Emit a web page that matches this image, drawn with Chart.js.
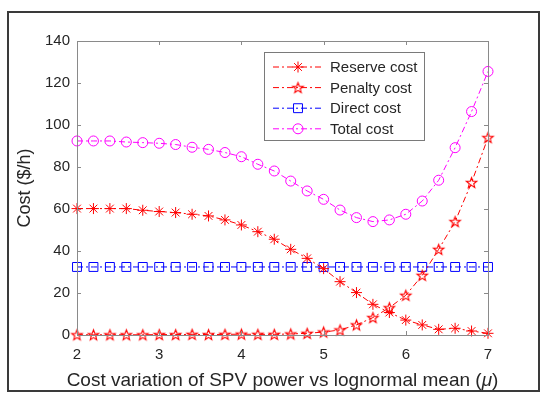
<!DOCTYPE html>
<html>
<head>
<meta charset="utf-8">
<script src="https://cdn.jsdelivr.net/npm/chart.js@4.4.1/dist/chart.umd.min.js"></script>
<style>
  html, body { margin: 0; padding: 0; background: #fff; }
  #wrap { width: 550px; height: 398px; }
</style>
</head>
<body>
<div id="wrap"><canvas id="costChart" width="550" height="398"></canvas></div>
<script>
// lognormal mean (mu) sample points
const xValues = [2.0, 2.2, 2.4, 2.6, 2.8, 3.0, 3.2, 3.4, 3.6, 3.8, 4.0, 4.2, 4.4,
                 4.6, 4.8, 5.0, 5.2, 5.4, 5.6, 5.8, 6.0, 6.2, 6.4, 6.6, 6.8, 7.0];

const reserveCost = [60.2, 60.2, 60.2, 60.2, 59.4, 58.8, 58.3, 57.5, 56.7, 54.8, 52.4, 49.2, 45.6,
                     40.8, 36.5, 31.6, 25.4, 20.2, 14.6, 10.7, 7.1, 4.8, 2.7, 3.2, 1.9, 0.8];
const penaltyCost = [0.1, 0.1, 0.1, 0.1, 0.1, 0.2, 0.2, 0.3, 0.2, 0.3, 0.4, 0.3, 0.3,
                     0.5, 0.8, 1.4, 2.4, 4.8, 8.3, 13.0, 18.9, 28.4, 40.8, 54.0, 72.6, 94.0];
const directCost  = [32.4, 32.4, 32.4, 32.4, 32.4, 32.4, 32.4, 32.4, 32.4, 32.4, 32.4, 32.4, 32.4,
                     32.4, 32.4, 32.4, 32.4, 32.4, 32.4, 32.4, 32.4, 32.4, 32.4, 32.4, 32.4, 32.4];
const totalCost   = [92.4, 92.4, 92.4, 91.9, 91.6, 91.3, 90.7, 89.4, 88.4, 86.9, 84.9, 81.3, 78.1,
                     73.3, 68.6, 64.6, 59.5, 55.9, 54.0, 54.8, 57.5, 63.8, 73.7, 89.2, 106.4, 125.5];

const seriesNames = ['Reserve cost', 'Penalty cost', 'Direct cost', 'Total cost'];
const xTicks = [2, 3, 4, 5, 6, 7];
const yTicks = [0, 20, 40, 60, 80, 100, 120, 140];
const xTitle = ['Cost variation of SPV power vs lognormal mean (', '\u03bc', ')'];

const FONT = '"Liberation Sans", Arial, sans-serif';
const TEXT = '#262626';
const AXIS = '#8a8a8a';
const DASHDOT = [6, 3, 2, 3];

// pentagram marker (Chart.js has no built-in one)
function makePentagram(color, r) {
    const c = document.createElement('canvas');
    const s = Math.ceil(r * 2 + 4);
    c.width = s; c.height = s;
    const ctx = c.getContext('2d');
    ctx.strokeStyle = color;
    ctx.lineWidth = 1.1;
    ctx.beginPath();
    for (let i = 0; i < 10; i++) {
        const rad = i % 2 === 0 ? r : r * 0.42;
        const a = -Math.PI / 2 + i * Math.PI / 5;
        const px = s / 2 + rad * Math.cos(a), py = s / 2 + 0.5 + rad * Math.sin(a);
        if (i === 0) ctx.moveTo(px, py); else ctx.lineTo(px, py);
    }
    ctx.closePath();
    ctx.stroke();
    return c;
}
const pentagram = makePentagram('#ff0000', 5.5);

function toPoints(ys) {
    return xValues.map((x, i) => ({ x: x, y: ys[i] }));
}

function series(label, ys, color, style, radius) {
    return {
        label: label,
        data: toPoints(ys),
        borderColor: color,
        backgroundColor: 'rgba(0,0,0,0)',
        borderWidth: 1,
        borderDash: DASHDOT,
        pointStyle: style,
        pointRadius: radius,
        pointBorderColor: color,
        pointBackgroundColor: 'rgba(0,0,0,0)',
        pointBorderWidth: 1,
        tension: 0,
        clip: false
    };
}

// inward ticks on all four sides, axis box, legend box, x title and figure frame
const matlabAxes = {
    id: 'matlabAxes',
    afterDatasetsDraw(chart) {
        const { ctx, chartArea: a, scales } = chart;
        ctx.save();
        ctx.strokeStyle = AXIS;
        ctx.lineWidth = 1;
        ctx.beginPath();
        xTicks.forEach(v => {
            const px = Math.round(scales.x.getPixelForValue(v)) + 0.5;
            ctx.moveTo(px, a.bottom); ctx.lineTo(px, a.bottom - 4);
            ctx.moveTo(px, a.top); ctx.lineTo(px, a.top + 4);
        });
        yTicks.forEach(v => {
            const py = Math.round(scales.y.getPixelForValue(v)) + 0.5;
            ctx.moveTo(a.left, py); ctx.lineTo(a.left + 4, py);
            ctx.moveTo(a.right, py); ctx.lineTo(a.right - 4, py);
        });
        ctx.stroke();
        ctx.strokeRect(Math.round(a.left) + 0.5, Math.round(a.top) + 0.5,
                       Math.round(a.right - a.left), Math.round(a.bottom - a.top));

        // legend
        const lx = 264, ly = 52, lw = 160, lh = 88;
        ctx.fillStyle = '#fff';
        ctx.fillRect(lx, ly, lw, lh);
        ctx.strokeStyle = '#7a7a7a';
        ctx.strokeRect(lx + 0.5, ly + 0.5, lw, lh);
        chart.data.datasets.forEach((ds, i) => {
            const y = ly + 15 + i * 20.6;
            ctx.strokeStyle = ds.borderColor;
            ctx.setLineDash(DASHDOT);
            ctx.beginPath();
            ctx.moveTo(lx + 9, y); ctx.lineTo(lx + 60, y);
            ctx.stroke();
            ctx.setLineDash([]);
            ctx.fillStyle = 'rgba(0,0,0,0)';
            Chart.helpers.drawPoint(ctx, {
                pointStyle: ds.pointStyle, radius: ds.pointRadius, borderWidth: 1, rotation: 0
            }, lx + 34, y);
            ctx.fillStyle = TEXT;
            ctx.font = '15px ' + FONT;
            ctx.textBaseline = 'middle';
            ctx.fillText(ds.label, lx + 66, y + 1);
        });

        // x axis title, with an italic mu like the TeX interpreter
        const fonts = ['19px ' + FONT, 'italic 19px ' + FONT, '19px ' + FONT];
        const widths = xTitle.map((t, i) => { ctx.font = fonts[i]; return ctx.measureText(t).width; });
        const target = 431;
        const total = widths.reduce((s, w) => s + w, 0);
        const nChars = xTitle.join('').length;
        const spacing = Math.max(0, (target - total) / nChars);
        if ('letterSpacing' in ctx) ctx.letterSpacing = spacing.toFixed(2) + 'px';
        const realW = xTitle.map((t, i) => { ctx.font = fonts[i]; return ctx.measureText(t).width; });
        let x = (a.left + a.right) / 2 - realW.reduce((s, w) => s + w, 0) / 2;
        ctx.fillStyle = TEXT;
        ctx.textBaseline = 'alphabetic';
        ctx.textAlign = 'left';
        xTitle.forEach((t, i) => {
            ctx.font = fonts[i];
            ctx.fillText(t, x, 385.5);
            x += realW[i];
        });
        if ('letterSpacing' in ctx) ctx.letterSpacing = '0px';
        ctx.restore();
    },
    afterDraw(chart) {
        const ctx = chart.ctx;
        ctx.save();
        ctx.strokeStyle = '#3a3a3a';
        ctx.lineWidth = 2;
        ctx.strokeRect(8, 12, 531, 379);
        ctx.restore();
    }
};

const ctx = document.getElementById('costChart').getContext('2d');
new Chart(ctx, {
    type: 'line',
    data: {
        datasets: [
            series(seriesNames[0], reserveCost, '#ff0000', 'star', 5.5),
            series(seriesNames[1], penaltyCost, '#ff0000', pentagram, 6),
            series(seriesNames[2], directCost, '#0000ff', 'rect', 6.3),
            series(seriesNames[3], totalCost, '#ff00ff', 'circle', 5)
        ]
    },
    options: {
        responsive: false,
        animation: false,
        layout: { padding: { left: 0, right: 62, top: 41, bottom: 0 } },
        plugins: {
            legend: { display: false },
            tooltip: { enabled: false }
        },
        scales: {
            x: {
                type: 'linear',
                min: 2,
                max: 7,
                afterBuildTicks: s => { s.ticks = xTicks.map(v => ({ value: v })); },
                afterFit: s => { s.height = 63; },
                grid: { display: false, drawTicks: false },
                border: { display: false },
                ticks: { color: TEXT, font: { family: FONT, size: 15 }, padding: 11 },
                title: { display: false }
            },
            y: {
                min: 0,
                max: 140,
                afterBuildTicks: s => { s.ticks = yTicks.map(v => ({ value: v })); },
                afterFit: s => { s.width = 77; },
                grid: { display: false, drawTicks: false },
                border: { display: false },
                ticks: { color: TEXT, font: { family: FONT, size: 15 }, padding: 7 },
                title: {
                    display: true,
                    text: 'Cost ($/h)',
                    color: TEXT,
                    font: { family: FONT, size: 18 },
                    padding: { top: 14, bottom: 0 }
                }
            }
        }
    },
    plugins: [matlabAxes]
});
</script>
</body>
</html>
